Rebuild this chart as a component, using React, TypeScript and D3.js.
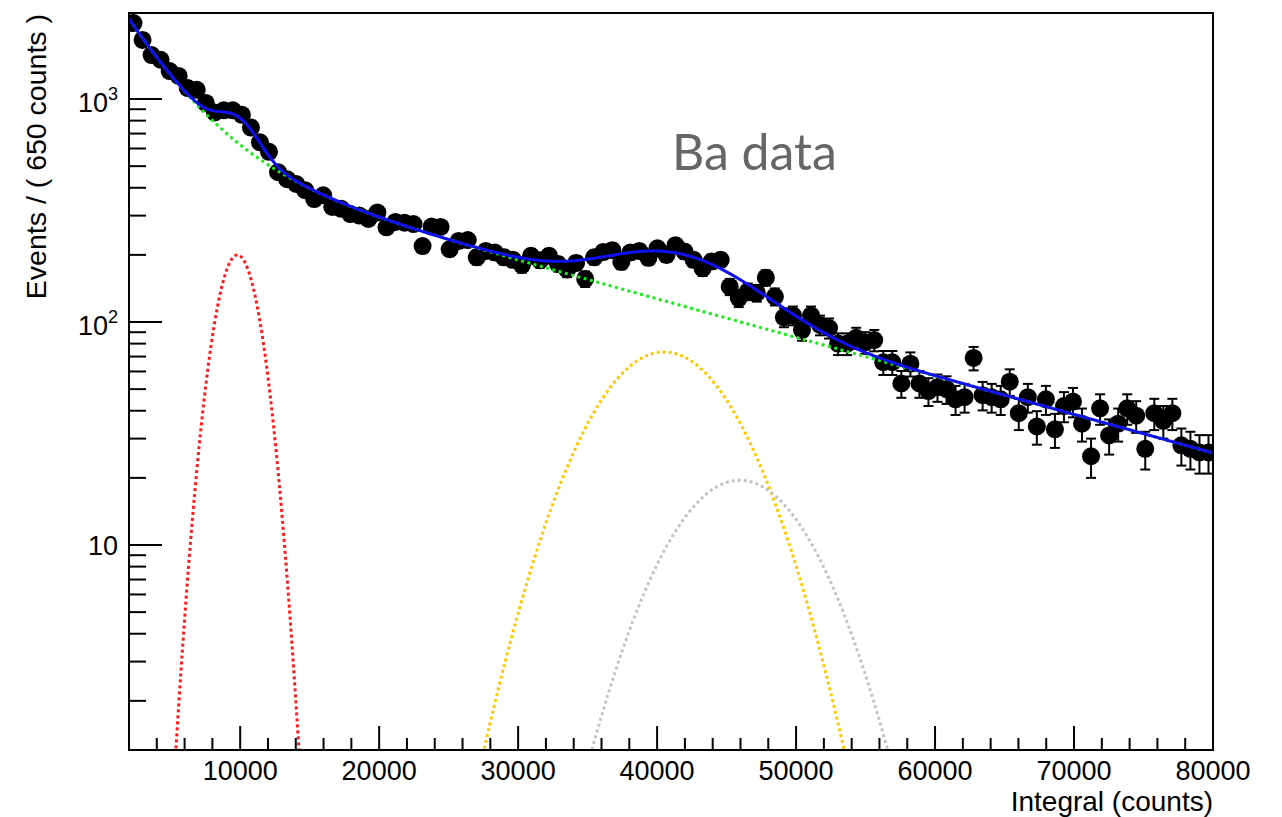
import React from 'react';
import * as d3 from 'd3';

// Histogram binning: 120 bins of 650 counts between 2000 and 80000
const X_MIN = 2000;
const X_MAX = 80000;
const BIN_WIDTH = 650;
const Y_MIN = 1.204;
const Y_MAX = 2431;

// Events per bin
const binCounts = [
  2190, 1840, 1575, 1500, 1335, 1270, 1120, 1100, 960, 870,
  890, 890, 850, 745, 640, 580, 470, 437, 416, 390,
  356, 370, 328, 322, 305, 300, 290, 310, 266, 281,
  279, 275, 219, 268, 267, 212, 231, 233, 195, 208,
  205, 195, 190, 180, 198, 189, 198, 182, 172, 184,
  156, 195, 206, 210, 186, 205, 208, 194, 214, 200,
  221, 207, 190, 174, 187, 190, 144, 128, 137, 135,
  158, 130, 105, 107, 92, 107, 97, 94, 80, 80,
  85, 81, 83, 66, 66, 53, 65, 53, 49, 51,
  50, 45, 46, 69, 47, 46, 45, 54, 39, 46,
  34, 45, 33, 42, 44, 35, 25, 41, 31, 35,
  41, 38, 27, 39, 36, 39, 28, 27, 26, 26,
];

// Fit model: double-exponential background plus three Gaussian peaks
const bgAmplitudes = [2912, 623];
const bgDecays = [3767, 25150];
const peakMeans = [9800, 40500, 45950];
const peakSigmas = [1385, 4520, 4510];
const peakHeights = [200, 73.4, 19.5];
const peakColors = ['#ff1a1a', '#ffc800', '#c4c4c4'];

// Axis ticks
const xMajorTicks = [10000, 20000, 30000, 40000, 50000, 60000, 70000, 80000];
const xMinorTicks = d3.range(4000, 80000, 2000).filter((v) => v % 10000 !== 0);
const yMajorTicks = [10, 100, 1000];
const yMajorExponents = ['', '2', '3'];
const yMinorTicks = [2, 3, 4, 5, 6, 7, 8, 9, 20, 30, 40, 50, 60, 70, 80, 90, 200, 300, 400, 500, 600, 700, 800, 900];

const FRAME = { left: 129, right: 1213, top: 13, bottom: 750 };

export default function App() {
  const x = d3.scaleLinear().domain([X_MIN, X_MAX]).range([FRAME.left, FRAME.right]);
  const y = d3.scaleLog().domain([Y_MIN, Y_MAX]).range([FRAME.bottom, FRAME.top]);

  const background = (v: number) =>
    bgAmplitudes[0] * Math.exp(-v / bgDecays[0]) + bgAmplitudes[1] * Math.exp(-v / bgDecays[1]);
  const peak = (k: number, v: number) =>
    peakHeights[k] * Math.exp(-0.5 * ((v - peakMeans[k]) / peakSigmas[k]) ** 2);
  const total = (v: number) => background(v) + peak(0, v) + peak(1, v) + peak(2, v);

  const grid = d3.range(X_MIN, X_MAX + 1, 100);
  const pathFor = (fn: (v: number) => number) =>
    d3
      .line<number>()
      .x((v) => x(v))
      .y((v) => y(Math.max(fn(v), 1e-3)))(grid) as string;

  const bgPath = pathFor(background);
  const peakPaths = peakMeans.map((_, k) => pathFor((v) => peak(k, v)));
  const totalPath = pathFor(total);

  const points = binCounts.map((n, i) => ({
    cx: x(X_MIN + BIN_WIDTH * (i + 0.5)),
    n,
    hi: n + Math.sqrt(n),
    lo: n - Math.sqrt(n),
  }));

  const font = '"Liberation Sans", Arial, Helvetica, sans-serif';

  return (
    <div style={{ position: 'absolute', left: 0, top: 0 }}>
      <svg width={1282} height={817} style={{ display: 'block', background: '#ffffff' }}>
        <defs>
          <clipPath id="plot-area">
            <rect x={FRAME.left} y={FRAME.top} width={FRAME.right - FRAME.left} height={FRAME.bottom - FRAME.top} />
          </clipPath>
        </defs>

        {/* data points with Poisson error bars */}
        <g clipPath="url(#plot-area)">
          {points.map((p, i) => (
            <g key={i}>
              <line x1={p.cx} x2={p.cx} y1={y(p.hi)} y2={y(p.lo)} stroke="#000" strokeWidth={2} />
              <line x1={p.cx - 5} x2={p.cx + 5} y1={y(p.hi)} y2={y(p.hi)} stroke="#000" strokeWidth={2} />
              <line x1={p.cx - 5} x2={p.cx + 5} y1={y(p.lo)} y2={y(p.lo)} stroke="#000" strokeWidth={2} />
              <circle cx={p.cx} cy={y(p.n)} r={9} fill="#000" />
            </g>
          ))}
        </g>

        {/* fit components and total */}
        <g clipPath="url(#plot-area)" fill="none">
          <path d={bgPath} stroke="#14ee14" strokeWidth={3} strokeDasharray="3 3.5" />
          {peakPaths.map((d, k) => (
            <path key={k} d={d} stroke={peakColors[k]} strokeWidth={3} strokeDasharray="3 3" />
          ))}
          <path d={totalPath} stroke="#1010f0" strokeWidth={3} />
        </g>

        {/* frame */}
        <rect
          x={FRAME.left}
          y={FRAME.top}
          width={FRAME.right - FRAME.left}
          height={FRAME.bottom - FRAME.top}
          fill="none"
          stroke="#000"
          strokeWidth={2}
        />

        {/* x axis */}
        <g stroke="#000" strokeWidth={2}>
          {xMajorTicks.map((v) => (
            <line key={v} x1={x(v)} x2={x(v)} y1={FRAME.bottom} y2={FRAME.bottom - 24} />
          ))}
          {xMinorTicks.map((v) => (
            <line key={v} x1={x(v)} x2={x(v)} y1={FRAME.bottom} y2={FRAME.bottom - 12} />
          ))}
        </g>
        <g fontFamily={font} fontSize={27} fill="#000" textAnchor="middle">
          {xMajorTicks.map((v) => (
            <text key={v} x={x(v)} y={780}>
              {v}
            </text>
          ))}
        </g>
        <text x={FRAME.right} y={811} fontFamily={font} fontSize={28} textAnchor="end" fill="#000">
          Integral (counts)
        </text>

        {/* y axis */}
        <g stroke="#000" strokeWidth={2}>
          {yMajorTicks.map((v) => (
            <line key={v} x1={FRAME.left} x2={FRAME.left + 33} y1={y(v)} y2={y(v)} />
          ))}
          {yMinorTicks.map((v) => (
            <line key={v} x1={FRAME.left} x2={FRAME.left + 17} y1={y(v)} y2={y(v)} />
          ))}
        </g>
        <g fontFamily={font} fill="#000" textAnchor="end">
          {yMajorTicks.map((v, k) =>
            yMajorExponents[k] ? (
              <text key={v} x={118} y={y(v) + 13} fontSize={27}>
                10
                <tspan dy={-12} fontSize={18}>
                  {yMajorExponents[k]}
                </tspan>
              </text>
            ) : (
              <text key={v} x={118} y={y(v) + 10} fontSize={27}>
                10
              </text>
            )
          )}
        </g>
        <text
          x={46}
          y={14}
          transform="rotate(-90, 46, 14)"
          fontFamily={font}
          fontSize={28.5}
          textAnchor="end"
          fill="#000"
        >
          Events / ( 650 counts )
        </text>

        {/* annotation */}
        <text x={672} y={170} fontFamily='Lato, "Open Sans", sans-serif' fontSize={50} fill="#666666">
          Ba data
        </text>
      </svg>
    </div>
  );
}
